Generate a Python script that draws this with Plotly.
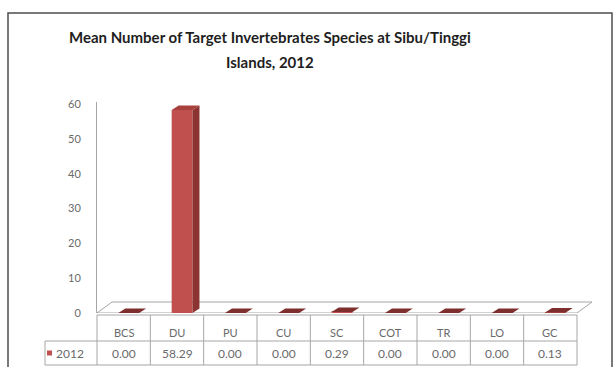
import plotly.graph_objects as go

# Mean number of target invertebrate species, Sibu/Tinggi Islands, 2012
categories = ["BCS", "DU", "PU", "CU", "SC", "COT", "TR", "LO", "GC"]
values_2012 = [0.00, 58.29, 0.00, 0.00, 0.29, 0.00, 0.00, 0.00, 0.13]
series_name = "2012"
y_ticks = [0, 10, 20, 30, 40, 50, 60]

W, H = 615, 367
L, R, T, B = 97, 38, 102, 54          # plot area margins (px)
PW, PH = W - L - R, H - T - B
Y_MAX = 60.6

FRONT = "#C0504D"
SIDE = "#8C3431"
TOP = "#7E2E2C"
GRID = "#A6A6A6"
TXT = "#6A6A6A"
FONT = "Lato"

n = len(categories)
bar_w = 0.39
bar_off = -0.10
# depth of the 3-D extrusion, in data units
dx = 7 / (PW / n)
dy = 4.5 / (PH / Y_MAX)


def px_x(p):
    return (p - L) / PW


def px_y(p):
    return (H - B - p) / PH


fig = go.Figure()
fig.add_trace(go.Bar(
    x=list(range(n)), y=values_2012, width=bar_w, offset=bar_off,
    marker=dict(color=FRONT, line=dict(width=0)), name=series_name,
    showlegend=False, hoverinfo="skip",
))

shapes = []

# floor of the 3-D plot
fdx, fdy = 15 / PW, 11 / (PH / Y_MAX)
shapes.append(dict(
    type="path", xref="paper", yref="y", layer="below",
    path=f"M 0,0 L {fdx},{fdy} L {1 + fdx},{fdy} L 1,0 Z",
    fillcolor="white", line=dict(color=GRID, width=1),
))

# side and top faces of every bar, derived from the bar values
for i, v in enumerate(values_2012):
    xl = i + bar_off
    xr = xl + bar_w
    if v > 0.5:
        shapes.append(dict(
            type="path", xref="x", yref="y", layer="above",
            path=f"M {xr},0 L {xr + dx},{dy} L {xr + dx},{v + dy} L {xr},{v} Z",
            fillcolor=SIDE, line=dict(width=0),
        ))
        top_col = "#A8403D"
    else:
        top_col = TOP
    shapes.append(dict(
        type="path", xref="x", yref="y", layer="above",
        path=f"M {xl},{v} L {xr},{v} L {xr + dx},{v + dy} L {xl + dx},{v + dy} Z",
        fillcolor=top_col, line=dict(width=0),
    ))

# data table below the plot
row_top, row_mid, row_bot = 315, 341, 365
leg_left = 45
tline = dict(color=GRID, width=1)
shapes.append(dict(type="line", xref="paper", yref="paper",
                   x0=0, x1=1, y0=px_y(row_top), y1=px_y(row_top), line=tline))
for yy in (row_mid, row_bot):
    shapes.append(dict(type="line", xref="paper", yref="paper",
                       x0=px_x(leg_left), x1=1, y0=px_y(yy), y1=px_y(yy), line=tline))
shapes.append(dict(type="line", xref="paper", yref="paper",
                   x0=px_x(leg_left), x1=px_x(leg_left),
                   y0=px_y(row_mid), y1=px_y(row_bot), line=tline))
for k in range(n + 1):
    xk = k / n
    shapes.append(dict(type="line", xref="paper", yref="paper",
                       x0=xk, x1=xk, y0=px_y(row_top), y1=px_y(row_bot), line=tline))

# legend key in the table
shapes.append(dict(type="rect", xref="paper", yref="paper",
                   x0=px_x(47), x1=px_x(52), y0=px_y(355.5), y1=px_y(350.5),
                   fillcolor=FRONT, line=dict(width=0)))

# outer chart frame
shapes.append(dict(type="rect", xref="paper", yref="paper",
                   x0=px_x(8), x1=px_x(612), y0=px_y(372), y1=px_y(13),
                   line=dict(color="#4D4D4D", width=1.5), layer="below"))

annotations = []
for i, (c, v) in enumerate(zip(categories, values_2012)):
    annotations.append(dict(x=(i + 0.5) / n, y=px_y(332), xref="paper", yref="paper",
                            text=c, showarrow=False, xanchor="center", yanchor="middle",
                            font=dict(family=FONT, size=11, color=TXT)))
    annotations.append(dict(x=(i + 0.5) / n, y=px_y(353), xref="paper", yref="paper",
                            text=f"{v:.2f}", showarrow=False, xanchor="center", yanchor="middle",
                            font=dict(family=FONT, size=12, color=TXT)))
annotations.append(dict(x=px_x(54), y=px_y(353), xref="paper", yref="paper",
                        text=series_name, showarrow=False, xanchor="left", yanchor="middle",
                        font=dict(family=FONT, size=12, color=TXT)))

# two-line chart title
title_lines = ["Mean Number of Target Invertebrates Species at Sibu/Tinggi", "Islands, 2012"]
for line_text, ypx in zip(title_lines, (37, 62)):
    annotations.append(dict(x=px_x(270), y=px_y(ypx), xref="paper", yref="paper",
                            text=f"<b>{line_text}</b>", showarrow=False,
                            xanchor="center", yanchor="middle",
                            font=dict(family=FONT, size=15, color="#1E1E1E")))

fig.update_layout(
    width=W, height=H,
    margin=dict(l=L, r=R, t=T, b=B, pad=0),
    paper_bgcolor="white", plot_bgcolor="rgba(0,0,0,0)",
    shapes=shapes, annotations=annotations,
    showlegend=False,
    xaxis=dict(range=[-0.5, n - 0.5], visible=False, fixedrange=True),
    yaxis=dict(range=[0, Y_MAX], tickvals=y_ticks, showgrid=False, zeroline=False,
               showline=True, linecolor=GRID, linewidth=1, ticks="",
               ticklabelstandoff=13,
               tickfont=dict(family=FONT, size=11, color=TXT), fixedrange=True),
)

fig.write_html("out.html", config={"displayModeBar": False})
